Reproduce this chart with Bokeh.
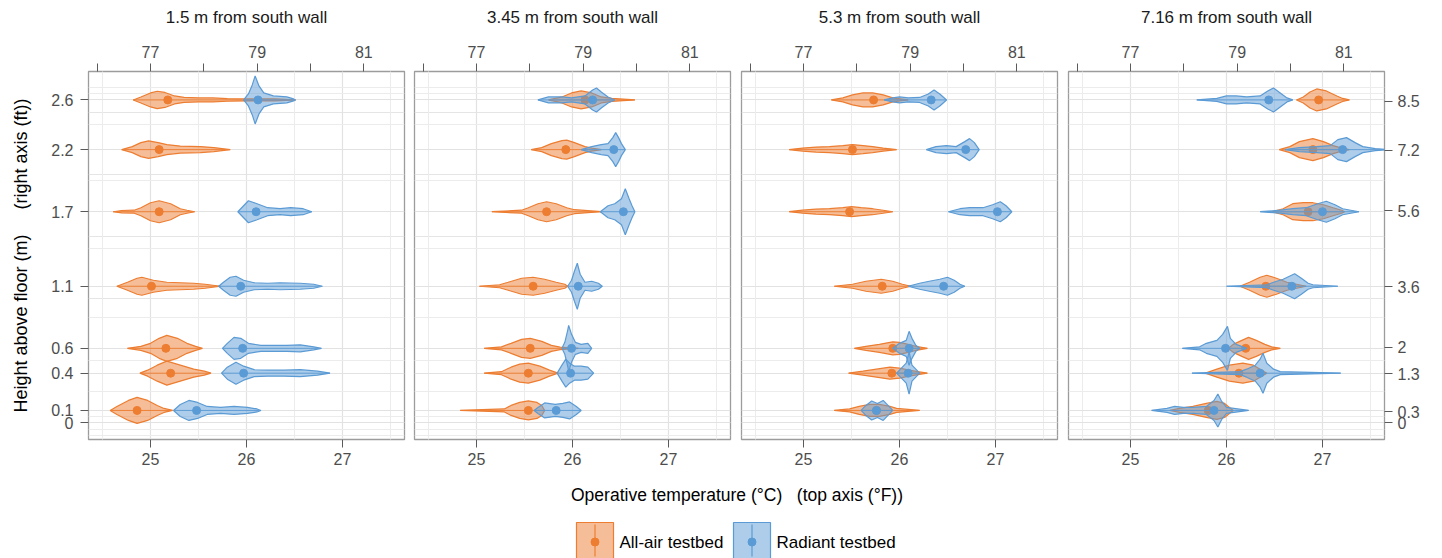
import numpy as np
from bokeh.plotting import figure
from bokeh.models import (Range1d, LinearAxis, FixedTicker, CustomJSTickFormatter,
                          Grid, ColumnDataSource)
from bokeh.layouts import row, column
from bokeh.core.properties import value
from bokeh.embed import file_html
from bokeh.resources import INLINE

# ---------------- data ----------------
PANEL_TITLES = ["1.5 m from south wall", "3.45 m from south wall",
                "5.3 m from south wall", "7.16 m from south wall"]
HEIGHTS = [2.6, 2.2, 1.7, 1.1, 0.6, 0.4, 0.1]           # m above floor
Y_BREAKS = [0, 0.1, 0.4, 0.6, 1.1, 1.7, 2.2, 2.6]
Y_MINOR = [-0.1, -0.05, 0.05, 0.25, 0.5, 0.85, 1.4, 1.95, 2.4, 2.65, 2.7]
C_BREAKS = [25, 26, 27]
C_MINOR = [24.5, 25.5, 26.5, 27.5]
F_TICKS = [76, 77, 78, 79, 80, 81]
FT_TICKS = [0, 0.3, 1.3, 2, 3.6, 5.6, 7.2, 8.5]
SERIES = ["All-air testbed", "Radiant testbed"]

# mean operative temperature (deg C) per height (order of HEIGHTS)
AIR_MEAN = [
    [25.18, 25.09, 25.09, 25.01, 25.16, 25.21, 24.86],
    [26.13, 25.93, 25.73, 25.59, 25.56, 25.54, 25.54],
    [25.73, 25.51, 25.48, 25.82, 25.93, 25.92, 25.76],
    [26.96, 26.90, 26.85, 26.41, 26.20, 26.13, 25.81],
]
RAD_MEAN = [
    [26.12, None, 26.10, 25.94, 25.96, 25.97, 25.48],
    [26.21, 26.43, 26.53, 26.06, 25.99, 25.98, 25.83],
    [26.33, 26.69, 27.02, 26.46, 26.10, 26.09, 25.76],
    [26.44, 27.21, 27.00, 26.68, 25.99, 26.35, 25.87],
]

# violin outlines: (temperature degC, density) pairs per height
AIR_P1 = [
    [(24.82, 0), (24.90, 3), (25.00, 7), (25.07, 8.7), (25.15, 7.5), (25.25, 4), (25.35, 2.5), (25.50, 2), (25.65, 2), (25.80, 1.3), (26.00, 1), (26.30, 1), (26.51, 0)],
    [(24.70, 0), (24.81, 3), (24.90, 7), (24.98, 8.7), (25.08, 7), (25.17, 5), (25.31, 3.5), (25.52, 3), (25.66, 2), (25.83, 0)],
    [(24.61, 0), (24.70, 1.2), (24.83, 1.5), (24.90, 4), (25.00, 9), (25.09, 11), (25.21, 8), (25.31, 3), (25.38, 1.5), (25.46, 0)],
    [(24.65, 0), (24.76, 4), (24.86, 8), (24.91, 9), (25.03, 6), (25.17, 4), (25.31, 3.5), (25.45, 3), (25.57, 2), (25.73, 0)],
    [(24.76, 0), (24.90, 2), (25.00, 5), (25.09, 10), (25.17, 13), (25.28, 10), (25.38, 5), (25.47, 2), (25.54, 0)],
    [(24.89, 0), (24.97, 3), (25.07, 8), (25.17, 12), (25.31, 8), (25.45, 4), (25.56, 2), (25.63, 0)],
    [(24.58, 0), (24.65, 4), (24.77, 10), (24.86, 13), (24.97, 10), (25.07, 5), (25.14, 2), (25.23, 0)],
]
RAD_P1 = [
    [(25.97, 0), (26.02, 6), (26.06, 15), (26.09, 24), (26.13, 14), (26.18, 7), (26.28, 4), (26.42, 3), (26.49, 1), (26.51, 0)],
    None,
    [(25.91, 0), (25.95, 4), (26.02, 11), (26.11, 8), (26.22, 4), (26.35, 3), (26.46, 4), (26.59, 3), (26.68, 0)],
    [(25.71, 0), (25.76, 4), (25.83, 9), (25.89, 10), (25.97, 6), (26.08, 3.5), (26.22, 3), (26.35, 3.5), (26.56, 3), (26.70, 2), (26.79, 0)],
    [(25.75, 0), (25.80, 5), (25.87, 11), (25.94, 10), (26.02, 5), (26.15, 3), (26.28, 3), (26.42, 3), (26.56, 3.5), (26.70, 1.5), (26.78, 0)],
    [(25.74, 0), (25.80, 6), (25.89, 11), (25.97, 7), (26.08, 3.5), (26.22, 3), (26.39, 3), (26.56, 3.5), (26.74, 2), (26.87, 0)],
    [(25.24, 0), (25.31, 6), (25.40, 10), (25.49, 8), (25.59, 4), (25.73, 3), (25.87, 4), (26.01, 3), (26.11, 1.5), (26.15, 0)],
]
AIR_P2 = [
    [(25.75, 0), (25.89, 3), (25.99, 7), (26.09, 9), (26.20, 7), (26.30, 3), (26.41, 1.5), (26.65, 0)],
    [(25.57, 0), (25.68, 2), (25.78, 6), (25.89, 9), (25.94, 9.5), (26.02, 7), (26.13, 3), (26.20, 1.5), (26.30, 0)],
    [(25.16, 0), (25.47, 1.5), (25.54, 4), (25.64, 8), (25.73, 10), (25.83, 8), (25.94, 4), (26.02, 2), (26.30, 0)],
    [(25.03, 0), (25.24, 1.5), (25.33, 4), (25.47, 8), (25.59, 9), (25.71, 7), (25.83, 4), (25.92, 2), (25.95, 0)],
    [(25.08, 0), (25.26, 1.5), (25.36, 5), (25.47, 9), (25.56, 10), (25.68, 7), (25.78, 3), (25.87, 1.2), (26.06, 0)],
    [(25.08, 0), (25.26, 1.5), (25.36, 6), (25.45, 9), (25.54, 10), (25.66, 7), (25.76, 3), (25.85, 0)],
    [(24.83, 0), (25.29, 1.5), (25.36, 5), (25.45, 8), (25.54, 9.5), (25.63, 8), (25.68, 5), (25.71, 0)],
]
RAD_P2 = [
    [(25.64, 0), (25.75, 3), (25.89, 3), (25.99, 2), (26.13, 4), (26.21, 10), (26.25, 12), (26.30, 8), (26.37, 3), (26.44, 0)],
    [(26.09, 0), (26.20, 3), (26.30, 5), (26.37, 6), (26.42, 12), (26.45, 17), (26.48, 12), (26.51, 6), (26.55, 0)],
    [(26.29, 0), (26.37, 6), (26.44, 8), (26.51, 13), (26.55, 23), (26.59, 13), (26.62, 6), (26.65, 0)],
    [(25.95, 0), (25.99, 6), (26.02, 15), (26.05, 23), (26.08, 12), (26.13, 4), (26.20, 5), (26.27, 3), (26.31, 0)],
    [(25.89, 0), (25.92, 6), (25.95, 18), (25.96, 23), (25.99, 14), (26.03, 6), (26.09, 4), (26.16, 5), (26.20, 0)],
    [(25.84, 0), (25.89, 8), (25.93, 14), (25.97, 10), (26.02, 7), (26.09, 7), (26.16, 6), (26.22, 0)],
    [(25.60, 0), (25.64, 3), (25.71, 7.5), (25.82, 6), (25.90, 7), (25.97, 8.5), (26.04, 4), (26.09, 0)],
]
AIR_P3 = [
    [(25.29, 0), (25.41, 2), (25.51, 5), (25.62, 7), (25.72, 7), (25.83, 5), (25.93, 2), (26.09, 0)],
    [(24.85, 0), (24.99, 1.5), (25.13, 2.5), (25.27, 3), (25.41, 4), (25.51, 5), (25.62, 4), (25.72, 3), (25.83, 1.5), (25.97, 0)],
    [(24.85, 0), (24.99, 1.5), (25.13, 2.5), (25.27, 3), (25.41, 4), (25.50, 5), (25.60, 4), (25.72, 3), (25.83, 1.5), (25.93, 0)],
    [(25.32, 0), (25.51, 2), (25.65, 5), (25.81, 7), (25.93, 5), (26.03, 2), (26.12, 0)],
    [(25.53, 0), (25.65, 2), (25.79, 4), (25.93, 6.5), (26.00, 6), (26.09, 4), (26.17, 2), (26.29, 0)],
    [(25.47, 0), (25.62, 2), (25.76, 4), (25.90, 6), (26.00, 5), (26.10, 3), (26.19, 1.5), (26.29, 0)],
    [(25.32, 0), (25.48, 1.5), (25.58, 4), (25.69, 6), (25.79, 6), (25.90, 4), (25.97, 2), (26.21, 0)],
]
RAD_P3 = [
    [(25.84, 0), (25.93, 2), (26.00, 3), (26.09, 2), (26.21, 2.5), (26.30, 6), (26.36, 10), (26.42, 6), (26.49, 0)],
    [(26.28, 0), (26.38, 3), (26.49, 4), (26.59, 3), (26.68, 8), (26.73, 11), (26.78, 7), (26.83, 0)],
    [(26.51, 0), (26.63, 3), (26.73, 4), (26.87, 4), (26.97, 7), (27.05, 10), (27.11, 6), (27.17, 0)],
    [(26.09, 0), (26.21, 3), (26.31, 5), (26.42, 7), (26.50, 9), (26.57, 6), (26.63, 2), (26.68, 0)],
    [(25.93, 0), (26.00, 5), (26.07, 8), (26.10, 17), (26.13, 10), (26.17, 3), (26.21, 0)],
    [(25.97, 0), (26.02, 5), (26.07, 10), (26.10, 21), (26.13, 8), (26.17, 4), (26.21, 0)],
    [(25.60, 0), (25.65, 5), (25.71, 9.5), (25.77, 7), (25.83, 10), (25.88, 5), (25.93, 0)],
]
AIR_P4 = [
    [(26.73, 0), (26.80, 3), (26.87, 8), (26.94, 11), (27.04, 9), (27.15, 4), (27.21, 1.5), (27.28, 0)],
    [(26.55, 0), (26.66, 3), (26.76, 8), (26.90, 11), (27.01, 8), (27.11, 4), (27.20, 1.5), (27.28, 0)],
    [(26.47, 0), (26.59, 3), (26.69, 8), (26.80, 9), (26.90, 9), (27.01, 7), (27.11, 4), (27.20, 1.5), (27.23, 0)],
    [(26.14, 0), (26.24, 4), (26.35, 9), (26.42, 11), (26.52, 8), (26.63, 4), (26.73, 2), (26.83, 0)],
    [(26.02, 0), (26.07, 4), (26.16, 8), (26.23, 11), (26.31, 8), (26.40, 4), (26.47, 1.5), (26.56, 0)],
    [(25.78, 0), (25.90, 4), (26.03, 8), (26.17, 10), (26.28, 8), (26.35, 4), (26.42, 0)],
    [(25.41, 0), (25.51, 2), (25.65, 4), (25.79, 7), (25.90, 9), (25.98, 7), (26.03, 3), (26.07, 0)],
]
RAD_P4 = [
    [(25.69, 0), (25.90, 1.5), (26.00, 4), (26.10, 4), (26.21, 3), (26.35, 4), (26.43, 9), (26.49, 12), (26.56, 7), (26.63, 2), (26.69, 0)],
    [(26.61, 0), (26.76, 2), (26.94, 3), (27.08, 4), (27.16, 10), (27.25, 12), (27.34, 7), (27.42, 3), (27.55, 1), (27.70, 0)],
    [(26.35, 0), (26.56, 1.5), (26.69, 3), (26.83, 4), (26.95, 8), (27.04, 10.5), (27.13, 7), (27.21, 3), (27.38, 0)],
    [(26.00, 0), (26.42, 1.5), (26.49, 4), (26.59, 7), (26.71, 12.5), (26.78, 8), (26.85, 3), (26.90, 1.5), (27.16, 0)],
    [(25.54, 0), (25.72, 1.5), (25.79, 5), (25.90, 8), (25.96, 14), (26.01, 22), (26.04, 10), (26.10, 4), (26.21, 0)],
    [(25.64, 0), (26.14, 1.5), (26.21, 4), (26.30, 8), (26.35, 14), (26.38, 20), (26.42, 10), (26.49, 4), (26.56, 1.5), (27.19, 0)],
    [(25.22, 0), (25.38, 2), (25.46, 4), (25.55, 3), (25.65, 3), (25.79, 4), (25.87, 10), (25.91, 16.5), (25.95, 9), (26.00, 3), (26.23, 0)],
]
AIR_SHAPES = [AIR_P1, AIR_P2, AIR_P3, AIR_P4]
RAD_SHAPES = [RAD_P1, RAD_P2, RAD_P3, RAD_P4]

# ---------------- style ----------------
FONT = "Liberation Sans"
ORANGE = "#ED7D31"
BLUE = "#5B9BD5"
DENS_TO_M = 1 / 124.2          # density unit -> half-width in metres
X_RANGE = (24.354, 27.646)
Y_RANGE = (-0.134, 2.829)
FT_PER_M = 3.28084

WIDTHS = [409, 326, 327, 364]
BORDER_L = [88, 5, 6, 6]
BORDER_R = [5, 5, 5, 42]
PANEL_H = 478


def style_axis(ax):
    ax.axis_line_color = None
    ax.major_tick_line_color = "#5a5a5a"
    ax.major_tick_line_width = 1
    ax.major_tick_out = 8
    ax.major_tick_in = 0
    ax.minor_tick_line_color = None
    ax.major_label_text_font = FONT
    ax.major_label_text_font_size = "16px"
    ax.major_label_text_color = "#4d4d4d"
    ax.axis_label_text_font = FONT
    ax.axis_label_text_font_style = "normal"


def violin_source(shapes, means):
    xs, ys, x0, x1, hh, mx, my = [], [], [], [], [], [], []
    for h, shp, m in zip(HEIGHTS, shapes, means):
        if shp is None:
            continue
        t = [a for a, _ in shp]
        d = [b * DENS_TO_M for _, b in shp]
        xs.append(t + t[::-1])
        ys.append([h + v for v in d] + [h - v for v in d[::-1]])
        x0.append(t[0]); x1.append(t[-1]); hh.append(h)
        mx.append(m); my.append(h)
    return (ColumnDataSource(dict(xs=xs, ys=ys)),
            ColumnDataSource(dict(x0=x0, x1=x1, y=hh)),
            ColumnDataSource(dict(x=mx, y=my)))


panels = []
for i in range(4):
    p = figure(width=WIDTHS[i], height=PANEL_H,
               x_range=Range1d(*X_RANGE), y_range=Range1d(*Y_RANGE),
               x_axis_location=None, y_axis_location=None,
               min_border_left=BORDER_L[i], min_border_right=BORDER_R[i],
               min_border_top=71, min_border_bottom=39,
               output_backend="svg", toolbar_location=None)
    p.outline_line_color = "#9c9c9c"
    p.outline_line_width = 1.3
    p.background_fill_color = "white"
    p.border_fill_color = "white"

    gx = Grid(dimension=0, ticker=FixedTicker(ticks=C_BREAKS, minor_ticks=C_MINOR),
              grid_line_color="#e2e2e2", grid_line_width=1.2,
              minor_grid_line_color="#ececec", minor_grid_line_width=1)
    gy = Grid(dimension=1, ticker=FixedTicker(ticks=Y_BREAKS, minor_ticks=Y_MINOR),
              grid_line_color="#e2e2e2", grid_line_width=1.2,
              minor_grid_line_color="#ececec", minor_grid_line_width=1)
    p.add_layout(gx)
    p.add_layout(gy)

    # top axis in degF, carrying the panel title as its label
    top = LinearAxis(ticker=FixedTicker(ticks=[(f - 32) * 5 / 9 for f in F_TICKS]),
                     formatter=CustomJSTickFormatter(
                         code="const f = Math.round(tick*9/5 + 32); return (f % 2 === 1) ? String(f) : '';"),
                     axis_label=PANEL_TITLES[i])
    style_axis(top)
    top.major_label_standoff = 6
    top.axis_label_text_font_size = "17px"
    top.axis_label_text_color = "#1a1a1a"
    top.axis_label_standoff = 16
    p.add_layout(top, "above")

    bot = LinearAxis(ticker=FixedTicker(ticks=C_BREAKS))
    style_axis(bot)
    bot.major_label_standoff = 5
    p.add_layout(bot, "below")

    if i == 0:
        left = LinearAxis(ticker=FixedTicker(ticks=Y_BREAKS),
                          formatter=CustomJSTickFormatter(code="return String(Math.round(tick*10)/10);"),
                          axis_label="Height above floor (m)\u00a0\u00a0\u00a0\u00a0\u00a0(right axis (ft))")
        style_axis(left)
        left.major_label_standoff = 7
        left.axis_label_text_font_size = "18px"
        left.axis_label_text_color = "black"
        left.axis_label_standoff = 17
        p.add_layout(left, "left")
    if i == 3:
        right = LinearAxis(ticker=FixedTicker(ticks=[v / FT_PER_M for v in FT_TICKS]),
                           formatter=CustomJSTickFormatter(
                               code="return String(Math.round(tick*3.28084*10)/10);"))
        style_axis(right)
        right.major_label_standoff = 5
        p.add_layout(right, "right")

    for shapes, means, col in ((AIR_SHAPES[i], AIR_MEAN[i], ORANGE),
                               (RAD_SHAPES[i], RAD_MEAN[i], BLUE)):
        vs, ls, ms = violin_source(shapes, means)
        p.patches("xs", "ys", source=vs, fill_color=col, fill_alpha=0.5,
                  line_color=col, line_width=1.2)
        p.segment(x0="x0", x1="x1", y0="y", y1="y", source=ls, line_color=col,
                  line_width=1, line_alpha=0.9)
        p.scatter("x", "y", source=ms, size=8, fill_color=col, line_color=col)
    panels.append(p)

# ---------------- bottom: x title + legend ----------------
TOTAL_W = sum(WIDTHS)
BOT_H = 80
b = figure(width=TOTAL_W, height=BOT_H, x_range=Range1d(0, TOTAL_W), y_range=Range1d(BOT_H, 0),
           x_axis_location=None, y_axis_location=None, min_border=0,
           output_backend="svg", toolbar_location=None)
b.outline_line_color = None
b.xgrid.visible = False
b.ygrid.visible = False
b.text(x=[736.5], y=[16], text=["Operative temperature (°C)\u00a0\u00a0\u00a0(top axis (°F))"],
       text_align="center", text_baseline="middle", text_font=value(FONT),
       text_font_size="17.5px", text_color="black")

key_left = [576, 733]
key_w, key_top, key_bot = 37, 44, 80
key_mid = 63.5
b.quad(left=key_left, right=[k + key_w for k in key_left], top=[key_top] * 2, bottom=[key_bot] * 2,
       fill_color=[ORANGE, BLUE], fill_alpha=0.5, line_color=[ORANGE, BLUE], line_width=1.2)
b.segment(x0=[k + key_w / 2 for k in key_left], x1=[k + key_w / 2 for k in key_left],
          y0=[key_top + 2] * 2, y1=[key_bot - 2] * 2, line_color=[ORANGE, BLUE], line_width=1.2)
b.scatter(x=[k + key_w / 2 for k in key_left], y=[key_mid] * 2, size=8,
          fill_color=[ORANGE, BLUE], line_color=[ORANGE, BLUE])
b.text(x=[k + key_w + 6 for k in key_left], y=[key_mid] * 2, text=SERIES,
       text_align="left", text_baseline="middle", text_font=value(FONT),
       text_font_size="17px", text_color="black")

layout = column(row(*panels), b)
open("out.html", "w").write(file_html(layout, INLINE))
